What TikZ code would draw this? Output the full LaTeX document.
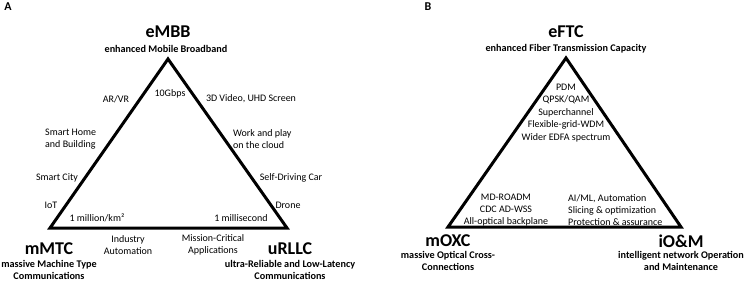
\documentclass[tikz,border=0pt]{standalone}
\usepackage{fontspec}
\setmainfont{Carlito}
\usetikzlibrary{positioning,calc}
\tikzset{
  tri/.style={line width=3pt,line join=miter},
  panellbl/.style={font=\fontsize{12}{13}\selectfont\bfseries,inner sep=0pt},
  bigname/.style={font=\fontsize{18}{19}\selectfont\bfseries,inner sep=0pt},
  subname/.style={font=\fontsize{10.2}{12}\selectfont\bfseries,align=center,inner sep=0pt},
  txt/.style={font=\fontsize{10}{12.2}\selectfont,align=center,inner sep=0pt},
  ltxt/.style={txt,align=left,anchor=west}
}

\begin{document}
\begin{tikzpicture}[x=1pt,y=-1pt]
  \useasboundingbox (0,0) rectangle (747,281);

  % panel A: 5G triangle
  \node[panellbl] (labA) at (8,7) {A};
  \coordinate (aTop) at (168,59);
  \coordinate (aLeft) at (50,228);
  \coordinate (aRight) at (287,228);
  \draw[tri] (aTop) -- (aLeft) -- (aRight) -- cycle;

  \node[bigname] (embb) at (168,32) {eMBB};
  \node[subname] (embbsub) at (166,49) {enhanced Mobile Broadband};
  \node[txt] (arvr) at (116,99) {AR/VR};
  \node[txt] (gbps) at (170,94) {10Gbps};
  \node[txt] (video) at (251,99) {3D Video, UHD Screen};
  \node[ltxt] (home) at (45,139) {Smart Home\\and Building};
  \node[ltxt] (cloud) at (233,139) {Work and play\\on the cloud};
  \node[txt] (city) at (57,178) {Smart City};
  \node[txt] (car) at (291,178) {Self-Driving Car};
  \node[txt] (iot) at (51,205) {IoT};
  \node[txt] (drone) at (288,205) {Drone};
  \node[txt] (density) at (97,218) {1 million/km²};
  \node[txt] (latency) at (241,218) {1 millisecond};
  \node[txt] (industry) at (128,245) {Industry\\Automation};
  \node[txt] (mission) at (213,245) {Mission-Critical\\Applications};
  \node[bigname] (mmtc) at (49,249) {mMTC};
  \node[subname,anchor=south] (mmtcsub) at (49,279.5) {massive Machine Type\\Communications};
  \node[bigname] (urllc) at (290,249) {uRLLC};
  \node[subname,anchor=south] (urllcsub) at (290,279.5) {ultra-Reliable and Low-Latency\\Communications};

  % panel B: optical triangle
  \node[panellbl] (labB) at (428,7) {B};
  \coordinate (bTop) at (566,58);
  \coordinate (bLeft) at (448,227);
  \coordinate (bRight) at (681,227);
  \draw[tri] (bTop) -- (bLeft) -- (bRight) -- cycle;

  \node[bigname] (eftc) at (566,32) {eFTC};
  \node[subname] (eftcsub) at (566,49) {enhanced Fiber Transmission Capacity};
  \node[txt,font=\fontsize{10}{12.5}\selectfont] (tech) at (566,113) {PDM\\QPSK/QAM\\Superchannel\\Flexible-grid-WDM\\Wider EDFA spectrum};
  \node[txt] (oxctech) at (506,210) {MD-ROADM\\CDC AD-WSS\\All-optical backplane};
  \node[ltxt] (omtech) at (568,210) {AI/ML, Automation\\Slicing \& optimization\\Protection \& assurance};
  \node[bigname] (moxc) at (448,241) {mOXC};
  \node[subname,anchor=south] (moxcsub) at (448,271) {massive Optical Cross-\\Connections};
  \node[bigname] (iom) at (681,241) {iO\&M};
  \node[subname,anchor=south] (iomsub) at (681,271) {intelligent network Operation\\and Maintenance};
\end{tikzpicture}
\end{document}
